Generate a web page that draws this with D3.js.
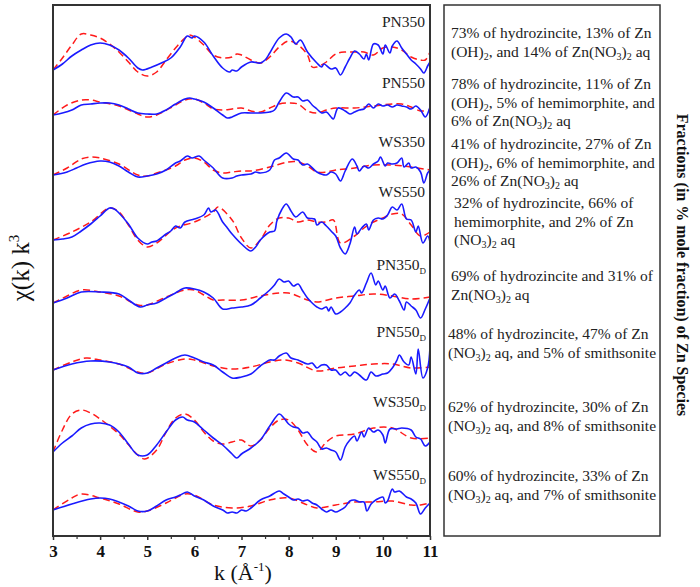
<!DOCTYPE html>
<html>
<head>
<meta charset="utf-8">
<script src="https://cdn.jsdelivr.net/npm/d3@7"></script>
<style>
  body { margin: 0; background: #fff; }
  text { font-family: "Liberation Serif", "Times New Roman", serif; }
</style>
</head>
<body>
<div id="chart"></div>
<script>
// sample names, vertical offsets of each spectrum, fit fractions
var sampleNames = ["PN350", "PN550", "WS350", "WS550", "PN350D", "PN550D", "WS350D", "WS550D"];
var offsets = [46.6, 42.1, 36.1, 29.6, 23.3, 16.6, 8.4, 2.6];
var labelPos = [50.9, 44.8, 38.9, 33.9, 26.6, 19.9, 12.9, 5.6];
var kTicks = [3, 4, 5, 6, 7, 8, 9, 10, 11];

var fractions = [
  ["73% of hydrozincite, 13% of Zn", "(OH)_2, and 14% of Zn(NO_3)_2 aq"],
  ["78% of hydrozincite, 11% of Zn", "(OH)_2, 5% of hemimorphite, and", "6% of Zn(NO_3)_2 aq"],
  ["41% of hydrozincite, 27% of Zn", "(OH)_2, 6% of hemimorphite, and", "26% of Zn(NO_3)_2 aq"],
  ["32% of hydrozincite, 66% of", "hemimorphite, and 2% of Zn", "(NO_3)_2 aq"],
  ["69% of hydrozincite and 31% of", "Zn(NO_3)_2 aq"],
  ["48% of hydrozincite, 47% of Zn", "(NO_3)_2 aq, and 5% of  smithsonite"],
  ["62% of hydrozincite, 30% of Zn", "(NO_3)_2 aq, and 8% of  smithsonite"],
  ["60% of hydrozincite, 33% of Zn", "(NO_3)_2 aq, and 7% of smithsonite"]
];

// experimental spectra [k, chi(k)k^3]
var pn350Exp = [[3,0],[3.2,0.6],[3.4,1.4],[3.6,2.0],[3.8,2.5],[4.0,2.7],[4.2,2.5],[4.4,2.0],[4.6,1.2],[4.8,0.2],[4.9,0],[5.1,0.3],[5.3,0.7],[5.5,1.2],[5.7,2.3],[5.85,3.4],[5.95,3.2],[6.0,3.4],[6.2,2.8],[6.4,1.4],[6.6,0.2],[6.75,-0.2],[6.8,0],[6.9,-0.1],[7.0,0.3],[7.2,0.8],[7.4,0.7],[7.5,1.0],[7.6,1.7],[7.8,3.2],[7.95,3.6],[8.05,3.3],[8.15,2.6],[8.25,3.0],[8.4,1.8],[8.6,0.7],[8.7,0.3],[8.75,0.6],[8.9,0.1],[9.0,0.2],[9.1,-0.5],[9.2,0.3],[9.3,1.2],[9.4,1.9],[9.5,1.6],[9.6,1.1],[9.65,1.6],[9.7,1.0],[9.8,2.6],[9.9,2.5],[10.0,1.6],[10.05,2.5],[10.15,1.7],[10.2,2.4],[10.3,2.9],[10.4,2.2],[10.5,1.6],[10.6,1.0],[10.7,0.6],[10.8,0.1],[10.87,-0.3],[10.95,0.4],[11,0.8]];
var pn550Exp = [[3,0],[3.2,0.2],[3.4,0.5],[3.6,1.0],[3.8,1.1],[4.0,1.2],[4.2,1.2],[4.4,1.0],[4.6,0.6],[4.8,0.2],[5.0,0.1],[5.2,0.1],[5.4,0.5],[5.6,1.1],[5.8,1.6],[5.9,1.7],[6.0,1.6],[6.2,1.3],[6.4,0.7],[6.6,0],[6.7,-0.3],[6.8,-0.2],[7.0,0.2],[7.2,0.2],[7.4,0.2],[7.6,0.3],[7.7,0.5],[7.8,1.3],[7.95,2.2],[8.1,1.8],[8.2,1.8],[8.3,1.4],[8.4,1.5],[8.5,1.0],[8.6,0.6],[8.7,0.2],[8.8,0.3],[8.9,-0.2],[8.95,-0.4],[9.05,0.7],[9.2,0.4],[9.3,0.1],[9.4,0.3],[9.5,0.5],[9.6,0.6],[9.7,1.1],[9.8,0.7],[9.9,1.1],[10.0,0.9],[10.1,1.0],[10.2,0.8],[10.3,1.0],[10.4,0.9],[10.5,0.8],[10.6,0.6],[10.7,0.9],[10.8,0.5],[10.9,-0.2],[11,0.8]];
var ws350Exp = [[3,0],[3.3,0.3],[3.5,0.7],[3.7,1.1],[4.0,1.4],[4.2,1.3],[4.4,0.9],[4.6,0.3],[4.8,-0.2],[5.0,-0.1],[5.2,0.1],[5.4,0.5],[5.6,1.2],[5.7,1.4],[5.85,1.9],[5.95,1.7],[6.1,1.9],[6.2,1.5],[6.4,0.7],[6.6,-0.3],[6.8,-0.3],[6.9,-0.1],[7.0,0],[7.2,0.1],[7.3,0.3],[7.4,0.2],[7.6,0.5],[7.7,1.5],[7.8,1.7],[7.95,2.2],[8.1,1.6],[8.2,1.5],[8.3,1.0],[8.4,1.1],[8.6,0.3],[8.8,0],[8.9,0.3],[9.0,0.1],[9.1,-0.6],[9.2,0.4],[9.35,1.6],[9.45,0.9],[9.5,0.4],[9.6,0.9],[9.7,0.7],[9.8,1.1],[9.9,1.4],[9.95,1.8],[10.05,0.9],[10.1,1.2],[10.2,1.1],[10.3,1.2],[10.4,1.7],[10.45,0.8],[10.55,1.2],[10.6,0.7],[10.7,0.8],[10.8,0.3],[10.87,-0.8],[10.95,0.2],[11,0.5]];
var ws550Exp = [[3,0],[3.2,0.1],[3.4,0.3],[3.6,0.9],[3.8,1.6],[4.0,2.4],[4.2,3.2],[4.3,3.1],[4.4,2.7],[4.6,1.6],[4.8,0.2],[5.0,-0.4],[5.1,-0.2],[5.2,-0.1],[5.4,0.6],[5.5,0.9],[5.6,1.4],[5.7,1.2],[5.8,1.8],[6.0,2.1],[6.2,2.5],[6.3,3.2],[6.35,2.8],[6.45,3.0],[6.6,1.8],[6.7,1.2],[6.8,0.6],[7.0,-0.4],[7.2,-1.1],[7.3,-0.7],[7.4,0],[7.6,0.8],[7.7,0.9],[7.75,1.9],[7.85,3.0],[7.95,3.6],[8.05,2.9],[8.15,2.3],[8.3,2.8],[8.4,2.2],[8.55,2.1],[8.6,1.5],[8.7,1.8],[8.8,1.4],[8.9,0.9],[9.0,0.4],[9.1,-0.8],[9.2,-1.4],[9.3,-0.4],[9.4,1.3],[9.45,0.6],[9.55,1.2],[9.65,1.6],[9.7,1.0],[9.8,2.0],[9.9,2.2],[10.0,2.1],[10.1,2.5],[10.2,3.3],[10.3,3.0],[10.4,3.6],[10.5,2.1],[10.6,2.0],[10.7,0.8],[10.75,1.4],[10.85,-0.3],[10.95,0.4],[11,-0.2]];
var pn350dExp = [[3,0],[3.3,0.5],[3.6,1.1],[4.0,1.1],[4.4,0.9],[4.6,0.3],[4.85,-0.4],[5.0,-0.2],[5.2,0],[5.4,0.5],[5.6,1.0],[5.7,1.3],[5.8,1.5],[6.0,1.4],[6.2,1.1],[6.4,0.5],[6.6,-0.6],[6.8,-0.5],[7.0,-0.4],[7.2,-0.2],[7.4,0.5],[7.6,1.3],[7.7,1.8],[7.8,2.4],[7.9,2.1],[8.0,2.2],[8.1,1.7],[8.2,1.9],[8.3,1.2],[8.4,0.5],[8.5,0],[8.6,-0.4],[8.7,-0.6],[8.8,-0.4],[8.85,-0.8],[8.9,-0.4],[9.0,-1.1],[9.1,-0.9],[9.2,-0.5],[9.3,0],[9.4,0.8],[9.5,1.3],[9.55,1.0],[9.65,2.0],[9.75,3.0],[9.85,1.8],[9.9,2.2],[10.0,1.3],[10.05,1.7],[10.15,0.5],[10.25,0.9],[10.35,0.2],[10.45,-0.7],[10.5,0.1],[10.6,-0.3],[10.7,-0.7],[10.8,-1.5],[10.9,-0.6],[11,0.5]];
var pn550dExp = [[3,0],[3.4,0.6],[3.8,0.9],[4.2,0.8],[4.6,0.3],[4.8,-0.3],[5.0,-0.3],[5.2,0.2],[5.4,0.7],[5.6,1.2],[5.8,1.5],[6.0,1.2],[6.2,0.8],[6.4,0.5],[6.6,-0.2],[6.8,-0.8],[7.0,-0.7],[7.2,-0.4],[7.4,0.4],[7.6,1.0],[7.7,1.0],[7.8,1.4],[7.95,1.7],[8.05,1.2],[8.2,1.0],[8.4,0.6],[8.5,0.7],[8.6,0.2],[8.7,0.5],[8.8,0.5],[8.9,0],[9.0,0],[9.1,-0.5],[9.2,-0.2],[9.3,-0.6],[9.4,-0.2],[9.5,-0.5],[9.65,-1.0],[9.75,-0.2],[9.85,-0.6],[10.0,-0.4],[10.1,-0.3],[10.2,0.2],[10.3,1.0],[10.35,1.5],[10.45,0.8],[10.55,0.5],[10.6,1.3],[10.7,-0.4],[10.75,2.1],[10.85,-0.8],[10.95,0.2],[11,2.3]];
var ws350dExp = [[3,0],[3.2,0.9],[3.4,1.6],[3.6,2.4],[3.8,2.8],[4.0,2.9],[4.2,2.7],[4.4,2.0],[4.6,0.8],[4.8,-0.3],[5.0,-0.3],[5.2,0.7],[5.4,2.0],[5.6,3.2],[5.75,3.5],[5.85,3.2],[6.0,3.0],[6.2,2.2],[6.4,1.4],[6.6,0.7],[6.8,-0.2],[6.9,-0.6],[7.0,-0.2],[7.2,0.4],[7.4,1.2],[7.6,2.6],[7.8,3.8],[7.9,3.4],[8.0,2.8],[8.1,2.5],[8.2,2.4],[8.3,1.9],[8.4,2.0],[8.5,1.4],[8.6,1.0],[8.7,0.3],[8.8,0.4],[8.9,0.2],[9.0,0],[9.1,-0.8],[9.2,0.5],[9.3,1.2],[9.4,1.6],[9.45,1.1],[9.55,2.0],[9.6,1.5],[9.7,2.4],[9.8,2.0],[9.9,2.2],[10.0,1.7],[10.05,0.9],[10.15,2.3],[10.3,2.3],[10.4,2.4],[10.6,2.2],[10.7,1.5],[10.8,1.3],[10.9,0.6],[11,1.0]];
var ws550dExp = [[3,0],[3.4,0.6],[3.8,1.1],[4.0,1.2],[4.2,1.1],[4.6,0.4],[4.8,-0.1],[5.0,-0.1],[5.2,0.4],[5.4,1.0],[5.6,1.3],[5.7,1.5],[5.85,1.8],[6.0,1.4],[6.2,1.0],[6.4,0.4],[6.6,0],[6.7,-0.3],[6.8,-0.2],[6.9,-0.3],[7.0,0],[7.1,-0.1],[7.2,0.2],[7.4,1.0],[7.6,1.4],[7.8,1.9],[7.9,1.6],[8.0,1.3],[8.1,1.0],[8.2,1.1],[8.3,0.9],[8.4,1.0],[8.5,0.7],[8.6,0.5],[8.7,0.1],[8.8,-0.2],[8.9,0],[9.0,-0.2],[9.1,0],[9.2,0.3],[9.3,0.9],[9.4,1.0],[9.5,0.8],[9.6,0.8],[9.66,-0.1],[9.75,0.6],[9.85,1.0],[10.0,1.3],[10.05,0.7],[10.1,0.9],[10.2,2.1],[10.25,1.8],[10.35,1.9],[10.5,1.3],[10.6,1.1],[10.7,0.7],[10.8,-0.4],[10.9,0.2],[11,0.7]];

// linear combination fits
var pn350Fit = [[3,0],[3.2,1.2],[3.4,2.5],[3.6,3.6],[3.8,3.5],[4.0,3.2],[4.2,2.6],[4.4,1.8],[4.6,0.8],[4.8,-0.2],[5.0,-0.6],[5.2,-0.2],[5.4,1.0],[5.6,2.2],[5.8,3.2],[5.9,3.5],[6.0,3.3],[6.2,2.5],[6.4,1.5],[6.6,1.2],[6.8,1.3],[6.9,1.6],[7.0,1.5],[7.2,1.0],[7.4,0.7],[7.6,1.3],[7.8,2.3],[8.0,2.9],[8.2,2.5],[8.4,1.5],[8.5,0.3],[8.6,0.3],[8.8,0.8],[9.0,1.6],[9.2,1.8],[9.4,1.8],[9.6,1.8],[9.8,1.5],[10.0,2.2],[10.2,2.3],[10.4,2.0],[10.6,1.3],[10.8,1.0],[10.9,1.0],[11,1.8]];
var pn550Fit = [[3,0],[3.3,1.0],[3.6,1.5],[3.8,1.5],[4.0,1.3],[4.4,0.9],[4.8,0.1],[5.0,-0.2],[5.2,0],[5.6,1.0],[5.8,1.5],[6.0,1.6],[6.2,1.2],[6.4,0.6],[6.6,0.5],[6.8,0.6],[7.0,0.7],[7.2,0.4],[7.4,0.3],[7.6,0.7],[7.8,1.1],[8.0,1.2],[8.2,1.1],[8.4,0.4],[8.6,0.2],[8.8,0.5],[9.0,0.7],[9.4,0.7],[9.8,0.9],[10.2,1.1],[10.4,1.1],[10.6,0.8],[10.8,0.4],[11,0.5]];
var ws350Fit = [[3,0],[3.3,0.7],[3.6,1.6],[3.8,1.8],[4.0,1.7],[4.4,1.1],[4.8,0],[5.0,-0.1],[5.2,0.2],[5.6,0.9],[5.8,1.5],[6.0,1.7],[6.2,1.3],[6.4,0.5],[6.6,0.2],[6.8,0.3],[7.0,0.4],[7.2,0.4],[7.6,0.8],[8.0,1.3],[8.2,1.3],[8.4,0.9],[8.6,0.3],[8.8,0.3],[9.0,0.5],[9.4,0.7],[9.8,1.0],[10.2,1.0],[10.6,0.8],[11,0.5]];
var ws550Fit = [[3,0],[3.4,0.8],[3.8,1.8],[4.2,3.2],[4.4,2.8],[4.6,1.5],[4.8,0],[5.0,-0.7],[5.2,-0.3],[5.6,1.2],[6.0,1.8],[6.4,2.8],[6.5,3.3],[6.8,2.0],[7.0,0.2],[7.2,-0.8],[7.4,0],[7.6,1.5],[7.8,2.2],[8.0,2.2],[8.2,1.8],[8.4,2.0],[8.6,1.8],[8.8,1.8],[8.95,2.0],[9.1,-0.3],[9.4,0.4],[9.6,1.2],[9.8,1.8],[10.0,2.2],[10.2,2.6],[10.4,2.6],[10.6,1.5],[10.8,0.4],[11,0.8]];
var pn350dFit = [[3,0],[3.3,0.7],[3.6,1.3],[4.0,1.1],[4.4,0.7],[4.8,-0.2],[5.0,-0.2],[5.4,0.6],[5.8,1.3],[6.0,1.3],[6.2,0.8],[6.4,0.3],[6.6,0.3],[7.0,0.3],[7.4,0.7],[7.8,1.0],[8.0,1.0],[8.4,0.3],[8.6,0.1],[9.0,0.5],[9.4,0.7],[9.8,0.9],[10.2,0.7],[10.6,0.4],[11,0.6]];
var pn550dFit = [[3,0],[3.4,0.8],[3.7,1.2],[4.0,1.0],[4.4,0.6],[4.8,-0.2],[5.0,-0.3],[5.4,0.6],[5.8,1.1],[6.0,1.0],[6.4,0.4],[6.8,0.1],[7.2,0.3],[7.6,0.8],[7.9,1.0],[8.2,0.7],[8.6,-0.1],[9.0,0.2],[9.4,0.4],[9.8,0.6],[10.2,0.6],[10.6,0.2],[11,0.3]];
var ws350dFit = [[3,0],[3.2,2.2],[3.4,3.8],[3.6,4.2],[3.8,3.9],[4.0,3.3],[4.4,1.8],[4.8,-0.3],[4.95,-0.7],[5.2,0.2],[5.4,2.0],[5.6,3.4],[5.8,3.8],[6.0,3.2],[6.2,2.0],[6.4,1.1],[6.6,0.8],[6.8,1.0],[7.0,1.2],[7.2,0.6],[7.4,1.2],[7.6,2.4],[7.8,3.2],[8.0,3.2],[8.2,2.2],[8.4,0.7],[8.6,0],[8.8,1.0],[9.0,1.6],[9.4,1.8],[9.8,2.4],[10.2,2.4],[10.6,1.4],[11,1.4]];
var ws550dFit = [[3,0],[3.4,1.2],[3.6,1.6],[4.0,1.2],[4.4,0.6],[4.8,-0.2],[5.0,-0.1],[5.4,0.7],[5.8,1.6],[6.0,1.5],[6.4,0.5],[6.8,0.2],[7.2,0.4],[7.6,1.0],[8.0,1.2],[8.4,0.5],[8.6,0.2],[9.0,0.5],[9.4,0.8],[9.8,0.8],[10.2,0.9],[10.6,0.5],[10.8,0.5],[11,0.7]];

var expSpectra = [pn350Exp, pn550Exp, ws350Exp, ws550Exp, pn350dExp, pn550dExp, ws350dExp, ws550dExp];
var fitSpectra = [pn350Fit, pn550Fit, ws350Fit, ws550Fit, pn350dFit, pn550dFit, ws350dFit, ws550dFit];

var W = 700, H = 587;
var margin = {top: 5, left: 53},
    width = 377,
    height = 531;

var svg = d3.select("#chart").append("svg")
    .attr("width", W)
    .attr("height", H);

var g = svg.append("g")
    .attr("transform", "translate(" + margin.left + "," + margin.top + ")");

var x = d3.scaleLinear().domain([3, 11]).range([0, width]);
var y = d3.scaleLinear().domain([0, 53.1]).range([height, 0]);

function line(offset) {
  return d3.line()
    .x(function(d) { return x(d[0]); })
    .y(function(d) { return y(offset + d[1]); })
    .curve(d3.curveCatmullRom.alpha(0.5));
}

sampleNames.forEach(function(name, i) {
  g.append("path")
    .datum(fitSpectra[i])
    .attr("fill", "none")
    .attr("stroke", "#ff1a1a")
    .attr("stroke-width", 1.5)
    .attr("stroke-dasharray", "7,4")
    .attr("d", line(offsets[i]));

  g.append("path")
    .datum(expSpectra[i])
    .attr("fill", "none")
    .attr("stroke", "#1a1aff")
    .attr("stroke-width", 1.6)
    .attr("d", line(offsets[i]));

  var base = name.replace(/D$/, "");
  var t = g.append("text")
    .attr("x", base !== name ? width - 4 : width - 5)
    .attr("y", y(labelPos[i]))
    .attr("text-anchor", "end")
    .style("font-size", "15.5px")
    .style("fill", "#222");
  t.append("tspan").text(base);
  if (base !== name) {
    t.append("tspan").attr("dy", 4).style("font-size", "9px").text("D");
  }
});

// frame
g.append("rect")
  .attr("width", width)
  .attr("height", height)
  .attr("fill", "none")
  .attr("stroke", "#333")
  .attr("stroke-width", 2);

// x axis
var xAxis = d3.axisBottom(x).tickValues(kTicks).tickSize(4).tickPadding(5).tickFormat(d3.format("d"));
var ax = g.append("g")
  .attr("transform", "translate(0," + height + ")")
  .call(xAxis);
ax.select(".domain").remove();
ax.selectAll("text")
  .style("font-size", "17px")
  .style("font-weight", "bold")
  .style("font-family", "'Liberation Serif', serif")
  .attr("fill", "#111");
ax.selectAll("line").attr("stroke", "#333").attr("stroke-width", 1.5);

var minor = g.append("g")
  .attr("transform", "translate(0," + height + ")")
  .call(d3.axisBottom(x).tickValues(d3.range(3.5, 11, 1)).tickSize(3).tickFormat(""));
minor.select(".domain").remove();
minor.selectAll("line").attr("stroke", "#333").attr("stroke-width", 1.2);

// axis titles
var xt = svg.append("text")
  .attr("x", 243)
  .attr("y", 580)
  .attr("text-anchor", "middle")
  .style("font-size", "22px")
  .style("fill", "#111");
xt.append("tspan").text("k (Å");
xt.append("tspan").attr("dy", -9).style("font-size", "13px").text("-1");
xt.append("tspan").attr("dy", 9).text(")");

var yt = svg.append("text")
  .attr("transform", "translate(29,268) rotate(-90)")
  .attr("text-anchor", "middle")
  .style("font-size", "25px")
  .style("fill", "#111");
yt.append("tspan").text("χ(k) k");
yt.append("tspan").attr("dy", -10).style("font-size", "15px").text("3");

// fractions box
var box = {x: 444, y: 5, w: 216, h: 531};
svg.append("rect")
  .attr("x", box.x).attr("y", box.y)
  .attr("width", box.w).attr("height", box.h)
  .attr("fill", "none")
  .attr("stroke", "#333")
  .attr("stroke-width", 1.5);

var blockTop = [38, 89, 149, 208, 281, 339, 412, 481];
var blockLeft = [451, 451, 451, 454, 451, 448, 448, 448];

function richLine(sel, str) {
  var shift = 0;
  str.split(/(_\d)/).forEach(function(part) {
    if (!part) return;
    if (part[0] === "_") {
      sel.append("tspan").attr("dy", 3 - shift).style("font-size", "10px").text(part.slice(1));
      shift = 3;
    } else {
      sel.append("tspan").attr("dy", -shift).text(part);
      shift = 0;
    }
  });
}

fractions.forEach(function(lines, i) {
  lines.forEach(function(str, j) {
    var t = svg.append("text")
      .attr("x", blockLeft[i])
      .attr("y", blockTop[i] + j * 18.5)
      .style("font-size", "15.5px")
      .style("fill", "#222");
    richLine(t, str);
  });
});

svg.append("text")
  .attr("transform", "translate(677,265) rotate(90)")
  .attr("text-anchor", "middle")
  .style("font-size", "16px")
  .style("font-weight", "bold")
  .style("fill", "#111")
  .text("Fractions (in % mole fraction) of Zn Species");
</script>
</body>
</html>
